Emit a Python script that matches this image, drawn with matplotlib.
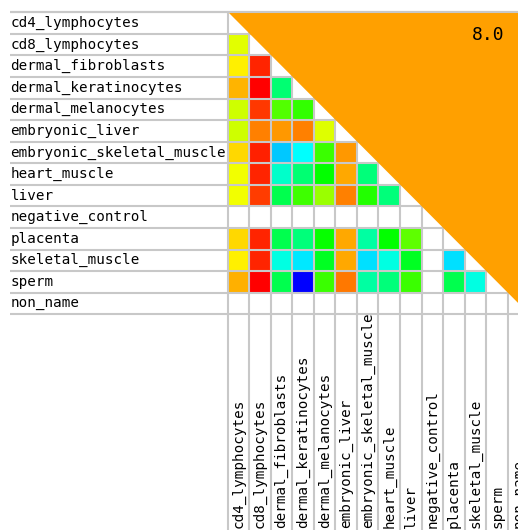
import numpy as np
import matplotlib
matplotlib.use("Agg")
import matplotlib.pyplot as plt
from matplotlib.colors import ListedColormap, Normalize, hsv_to_rgb

nan = np.nan

tissues = [
    "cd4_lymphocytes", "cd8_lymphocytes", "dermal_fibroblasts",
    "dermal_keratinocytes", "dermal_melanocytes", "embryonic_liver",
    "embryonic_skeletal_muscle", "heart_muscle", "liver",
    "negative_control", "placenta", "skeletal_muscle", "sperm", "non_name",
]

# lower triangle scores, one list per row (row i has i entries)
row_scores = [
    [],
    [6.85],
    [7.26, 9.13],
    [7.82, 9.50, 3.71],
    [6.65, 8.98, 5.50, 5.20],
    [6.65, 8.31, 8.08, 8.31, 6.81],
    [7.49, 9.20, 1.86, 2.38, 5.27, 8.08],
    [6.99, 9.13, 2.89, 3.71, 4.75, 7.94, 3.63],
    [6.99, 8.91, 4.01, 5.34, 6.17, 8.31, 5.05, 3.63],
    [nan] * 9,
    [7.49, 9.13, 4.01, 3.63, 4.80, 7.94, 3.26, 4.75, 5.64, nan],
    [7.26, 9.13, 2.66, 2.16, 4.45, 7.94, 2.10, 2.66, 4.45, nan, 2.10],
    [7.86, 9.50, 4.01, 0.00, 5.27, 8.38, 3.26, 3.63, 5.27, nan, 4.01, 2.66],
    [nan] * 13,
]
upper_score = 8.0

n = len(tissues)
grid = np.full((n, n), nan)
for i, vals in enumerate(row_scores):
    grid[i, :len(vals)] = vals

# red (high) -> orange -> yellow -> green -> cyan -> blue (low)
t = np.linspace(0, 1, 256)
hsv = np.stack([(1 - t) * 240 / 360, np.ones_like(t), np.ones_like(t)], axis=1)
cmap = ListedColormap(hsv_to_rgb(hsv))
cmap.set_bad("white")
norm = Normalize(vmin=0.0, vmax=9.5)

cell = 21.57
x0_px, y0_px = 227.5, 12.3
W, H = 518, 530

fig = plt.figure(figsize=(W / 100, H / 100), dpi=100)
ax = fig.add_axes([0, 0, 1, 1])
ax.set_xlim(-x0_px / cell, (W - x0_px) / cell)
ax.set_ylim((H - y0_px) / cell, -y0_px / cell)
ax.axis("off")

ax.pcolormesh(np.arange(n + 1), np.arange(n + 1), np.ma.masked_invalid(grid),
              cmap=cmap, norm=norm, zorder=1)

line_col = "#c8c8c8"
lw = 1.5
x_left = (10 - x0_px) / cell
y_bottom = (H - y0_px) / cell
ax.hlines(np.arange(n + 1), x_left, n + 1, colors=line_col, lw=lw, zorder=2)
ax.vlines(np.arange(n + 1), 0, y_bottom, colors=line_col, lw=lw, zorder=2)

# upper triangle filled with the single summary score
ax.fill([0, n + 1, n + 1], [0, 0, n + 1], color=cmap(norm(upper_score)),
        lw=0, zorder=3)
ax.hlines(0, x_left, n + 1, colors=line_col, lw=lw, zorder=4)
ax.text(12.08, 1.05, f"{upper_score:.1f}", family="DejaVu Sans Mono",
        fontsize=13, ha="center", va="center", zorder=5)

font = dict(family="DejaVu Sans Mono", fontsize=10.3, color="black")
for i, name in enumerate(tissues):
    ax.text(x_left + 0.02, i + 0.5, name, ha="left", va="center", **font)
    ax.text(i + 0.5, (528 - y0_px) / cell, name, rotation=90,
            ha="center", va="bottom", **font)

fig.savefig("out.png", dpi=100)
